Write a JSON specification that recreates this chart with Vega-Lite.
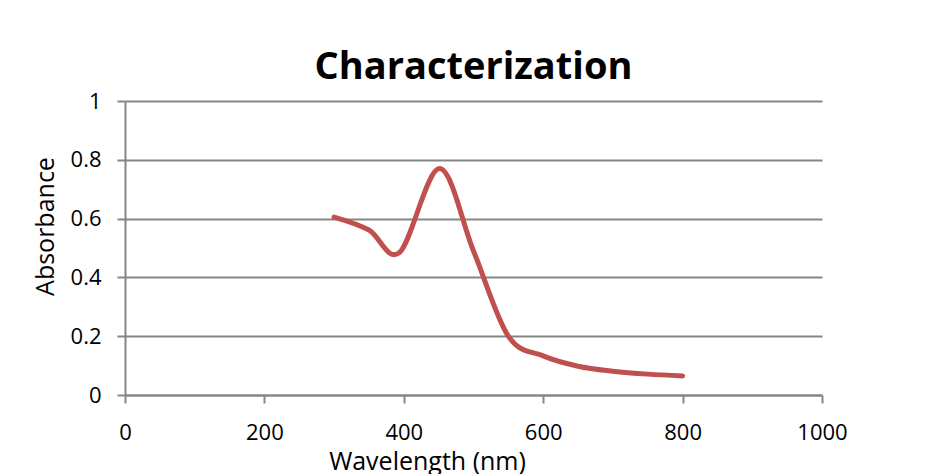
{
  "$schema": "https://vega.github.io/schema/vega-lite/v6.json",
  "width": 697,
  "height": 294,
  "autosize": {"type": "none"},
  "padding": {"left": 125, "top": 101, "right": 108, "bottom": 79},
  "background": "white",
  "title": {
    "text": "Characterization",
    "font": "Open Sans",
    "fontSize": 38,
    "fontWeight": "bold",
    "color": "black",
    "anchor": "middle",
    "baseline": "alphabetic",
    "offset": 8,
    "dy": 35
  },
  "data": {
    "values": [
      {"wavelength": 300, "absorbance": 0.605},
      {"wavelength": 350, "absorbance": 0.561},
      {"wavelength": 394, "absorbance": 0.485},
      {"wavelength": 451, "absorbance": 0.77},
      {"wavelength": 500, "absorbance": 0.49},
      {"wavelength": 550, "absorbance": 0.2},
      {"wavelength": 600, "absorbance": 0.133},
      {"wavelength": 650, "absorbance": 0.098},
      {"wavelength": 700, "absorbance": 0.081},
      {"wavelength": 750, "absorbance": 0.071},
      {"wavelength": 800, "absorbance": 0.065}
    ]
  },
  "mark": {"type": "line", "interpolate": "cardinal", "tension": 0, "color": "#C0504D", "strokeWidth": 5, "strokeCap": "round", "clip": false},
  "encoding": {
    "x": {
      "field": "wavelength",
      "type": "quantitative",
      "scale": {"domain": [0, 1000], "nice": false, "zero": false},
      "axis": {
        "values": [0, 200, 400, 600, 800, 1000],
        "format": "d",
        "labelFlush": false,
        "grid": false,
        "title": "Wavelength (nm)",
        "titleFont": "Open Sans",
        "titleFontSize": 25,
        "titleFontWeight": "normal",
        "titleColor": "black",
        "titleBaseline": "alphabetic",
        "titleX": 302,
        "titleY": 74,
        "labelFont": "Open Sans",
        "labelFontSize": 22,
        "labelColor": "black",
        "labelPadding": 19,
        "tickSize": 8,
        "tickColor": "#868686",
        "tickWidth": 2,
        "domainColor": "#868686",
        "domainWidth": 2
      }
    },
    "y": {
      "field": "absorbance",
      "type": "quantitative",
      "scale": {"domain": [0, 1], "nice": false},
      "axis": {
        "values": [0, 0.2, 0.4, 0.6, 0.8, 1],
        "format": "~g",
        "grid": true,
        "gridColor": "#868686",
        "gridWidth": 2,
        "title": "Absorbance",
        "titleFont": "Open Sans",
        "titleFontSize": 25,
        "titleFontWeight": "normal",
        "titleColor": "black",
        "titleAngle": 270,
        "titleBaseline": "alphabetic",
        "titleX": -72,
        "titleY": 125,
        "labelFont": "Open Sans",
        "labelFontSize": 22,
        "labelColor": "black",
        "labelPadding": 16,
        "tickSize": 8,
        "tickColor": "#868686",
        "tickWidth": 2,
        "domainColor": "#868686",
        "domainWidth": 2
      }
    }
  },
  "config": {"view": {"stroke": null}}
}
